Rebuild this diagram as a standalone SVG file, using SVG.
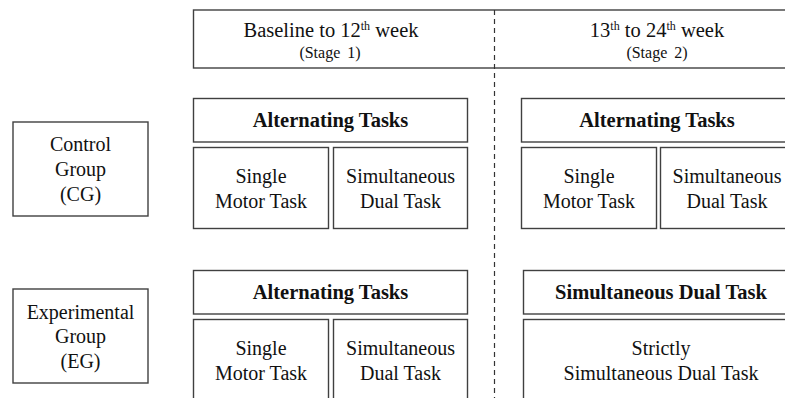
<svg xmlns="http://www.w3.org/2000/svg" width="785" height="398" viewBox="0 0 785 398">
<style>
rect{fill:#fff;stroke:#404040;stroke-width:1.4}
text{fill:#111;text-anchor:middle}
.m{font-size:20px}
.h{font-size:20.5px}
.s{font-size:16px;word-spacing:3px}
.b{font-size:20.5px;font-weight:bold}
.sup{font-size:12px}
</style>
<rect width="785" height="398" style="fill:#fff;stroke:none"/>
<g font-family="'Liberation Serif', 'DejaVu Serif', serif">
<g id="header">
<rect x="193.5" y="10" width="620" height="58"/>
<text class="h" x="331" y="37">Baseline to 12<tspan class="sup" dy="-7">th</tspan><tspan dy="7"> week</tspan></text>
<text class="s" x="330" y="58">(Stage 1)</text>
<text class="h" x="657" y="37">13<tspan class="sup" dy="-7">th</tspan><tspan dy="7"> to 24</tspan><tspan class="sup" dy="-7">th</tspan><tspan dy="7"> week</tspan></text>
<text class="s" x="657" y="58">(Stage 2)</text>
</g>
<g id="connectors">
<line x1="494.5" y1="10" x2="494.5" y2="398" stroke="#333" stroke-width="1.2" stroke-dasharray="5,4"/>
</g>
<g id="cg">
<rect x="13" y="122" width="135" height="94"/>
<text class="m" x="80.5" y="151">Control</text>
<text class="m" x="80.5" y="176">Group</text>
<text class="m" x="80.5" y="201">(CG)</text>
</g>
<g id="eg">
<rect x="13" y="289" width="135" height="94"/>
<text class="m" x="80.5" y="319">Experimental</text>
<text class="m" x="80.5" y="343">Group</text>
<text class="m" x="80.5" y="368">(EG)</text>
</g>
<g id="cg-s1-alt">
<rect x="193.5" y="98.5" width="274" height="43.5"/>
<text class="b" x="330.5" y="127">Alternating Tasks</text>
</g>
<g id="cg-s1-single">
<rect x="193.5" y="147.5" width="135" height="81"/>
<text class="m" x="261" y="183">Single</text>
<text class="m" x="261" y="208">Motor Task</text>
</g>
<g id="cg-s1-dual">
<rect x="333.5" y="147.5" width="134" height="81"/>
<text class="m" x="400.5" y="183">Simultaneous</text>
<text class="m" x="400.5" y="208">Dual Task</text>
</g>
<g id="cg-s2-alt">
<rect x="521.5" y="98.5" width="272" height="43.5"/>
<text class="b" x="657" y="127">Alternating Tasks</text>
</g>
<g id="cg-s2-single">
<rect x="521.5" y="147.5" width="135" height="81"/>
<text class="m" x="589" y="183">Single</text>
<text class="m" x="589" y="208">Motor Task</text>
</g>
<g id="cg-s2-dual">
<rect x="660.5" y="147.5" width="134" height="81"/>
<text class="m" x="727" y="183">Simultaneous</text>
<text class="m" x="727" y="208">Dual Task</text>
</g>
<g id="eg-s1-alt">
<rect x="193.5" y="270.5" width="274" height="43.5"/>
<text class="b" x="330.5" y="299">Alternating Tasks</text>
</g>
<g id="eg-s1-single">
<rect x="193.5" y="319.5" width="135" height="90"/>
<text class="m" x="261" y="355">Single</text>
<text class="m" x="261" y="380">Motor Task</text>
</g>
<g id="eg-s1-dual">
<rect x="333.5" y="319.5" width="134" height="90"/>
<text class="m" x="400.5" y="355">Simultaneous</text>
<text class="m" x="400.5" y="380">Dual Task</text>
</g>
<g id="eg-s2-sim">
<rect x="523.5" y="270.5" width="272" height="43.5"/>
<text class="b" x="661" y="299">Simultaneous Dual Task</text>
</g>
<g id="eg-s2-strict">
<rect x="523.5" y="319.5" width="272" height="90"/>
<text class="m" x="661" y="355">Strictly</text>
<text class="m" x="661" y="380">Simultaneous Dual Task</text>
</g>
</g>
</svg>
